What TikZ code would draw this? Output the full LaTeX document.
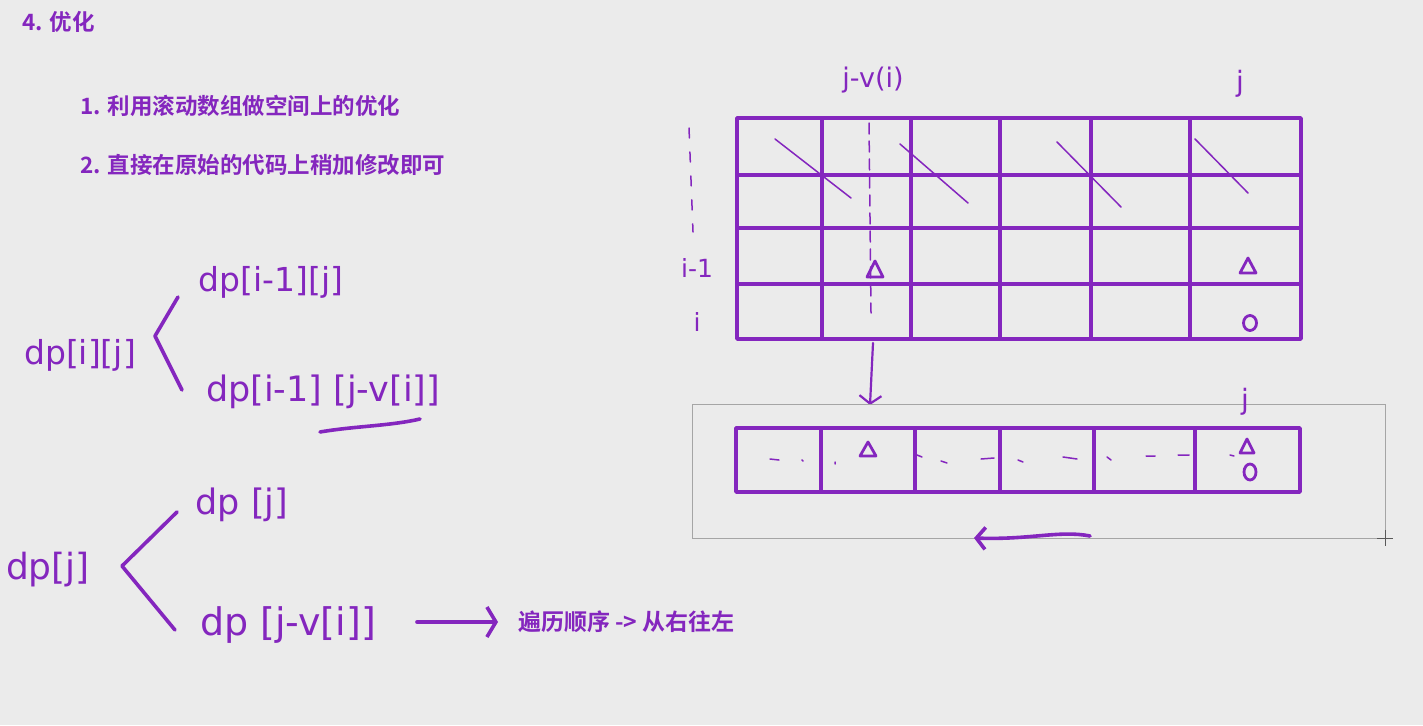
\documentclass[tikz,border=0pt]{standalone}
\usepackage{fontspec}
\setmainfont{DejaVu Sans}
\newfontfamily\cjk{Noto Sans CJK SC Bold}
\newfontfamily\hand{DejaVu Sans}
\usetikzlibrary{arrows.meta}
\definecolor{pur}{RGB}{132,38,190}
\definecolor{bgc}{RGB}{235,235,235}
\definecolor{framec}{RGB}{165,165,165}
\tikzset{
  cjktext/.style={anchor=west, inner sep=0pt, text=pur, font=\cjk\fontsize{22.5}{24}\selectfont},
  handtext/.style={inner sep=0pt, text=pur},
  gridline/.style={draw=pur, line width=3.6pt, line join=round},
  thinpen/.style={draw=pur, line width=1.5pt, line cap=round},
  pen/.style={draw=pur, line width=3.6pt, line cap=round, line join=round},
  penmark/.style={draw=pur, line width=2.8pt, line join=round},
  harrow/.style={pen, -{Straight Barb[length=9pt,width=30pt,line width=3.6pt]}}
}
\begin{document}
\begin{tikzpicture}[x=1pt,y=-1pt]
\fill[bgc] (0,0) rectangle (1423,725);
\useasboundingbox (0,0) rectangle (1423,725);

% headings
\node[cjktext] (title) at (22,22) {4. 优化};
\node[cjktext] (l1) at (80,106) {1. 利用滚动数组做空间上的优化};
\node[cjktext] (l2) at (80,165) {2. 直接在原始的代码上稍加修改即可};

% first recurrence
\node[handtext, font=\hand\fontsize{33}{34}\selectfont] (f1) at (80,355) {dp[i][j]};
\node[handtext, font=\hand\fontsize{33}{34}\selectfont] (f1a) at (271,282) {dp[i-1][j]};
\node[handtext, font=\hand\fontsize{35}{36}\selectfont] (f1b) at (323,392) {dp[i-1] [j-v[i]]};
\draw[pen] (178,297) -- (155,336) -- (182,390);
\draw[pen] (320,432) .. controls (355,426) and (390,426) .. (420,419);

% second recurrence
\node[handtext, font=\hand\fontsize{36}{36}\selectfont] (f2) at (48,570) {dp[j]};
\node[handtext, font=\hand\fontsize{35}{36}\selectfont] (f2a) at (242,505) {dp [j]};
\node[handtext, font=\hand\fontsize{38}{38}\selectfont] (f2b) at (288,625) {dp [j-v[i]]};
\draw[pen] (177,512) -- (122,566) -- (175,630);
\coordinate (a1s) at (417,622);
\node[cjktext, font=\cjk\fontsize{23}{24}\selectfont] (order) at (518,622) {遍历顺序 -> 从右往左};
\draw[harrow] (a1s) -- ([xshift=-20pt]order.west);

% 2D grid
\draw[gridline] (737,118) rectangle (1301,339);
\foreach \y in {175,228,284} \draw[gridline] (737,\y) -- (1301,\y);
\foreach \x in {822,911,1000,1091,1190} \draw[gridline] (\x,118) -- (\x,339);
% crossing strokes
\draw[thinpen] (775,139) -- (851,198);
\draw[thinpen] (900,144) -- (968,203);
\draw[thinpen] (1057,142) -- (1121,207);
\draw[thinpen] (1195,139) -- (1248,193);
% dashed guides
\draw[thinpen, dash pattern=on 11pt off 7pt] (869,123) -- (871,313);
\draw[thinpen, dash pattern=on 10pt off 14pt] (689,128) -- (693,232);
% labels
\node[handtext, font=\hand\fontsize{27}{28}\selectfont] (jv) at (873,80) {j-v(i)};
\node[handtext, font=\hand\fontsize{28}{28}\selectfont] (jt) at (1240,84) {j};
\node[handtext, font=\hand\fontsize{25}{26}\selectfont] (im1) at (697,268) {i-1};
\node[handtext, font=\hand\fontsize{25}{26}\selectfont] (ii) at (697,322) {i};
% marks
\draw[penmark] (867,277) -- (875,261) -- (883,277) -- cycle;
\draw[penmark] (1240,273) -- (1248,258) -- (1256,273) -- cycle;
\draw[penmark] (1250,323) ellipse [x radius=6.5pt, y radius=7.5pt];

% down arrow to 1D row
\coordinate (ds) at (873,343);
\coordinate (de) at (870,405);
\draw[pen, line width=2.2pt, -{Straight Barb[length=8pt,width=22pt,line width=2.2pt]}] (ds) -- (de);

% frame
\draw[framec, line width=1pt] (692,404) rectangle (1385,538);
\draw[gray!70!black, line width=0.8pt] (1377,538) -- (1393,538) (1385,530) -- (1385,546);

% 1D row
\draw[gridline] (736,428) rectangle (1300,492);
\foreach \x in {821,915,1000,1094,1195} \draw[gridline] (\x,428) -- (\x,492);
\node[handtext, font=\hand\fontsize{28}{28}\selectfont] (jb) at (1245,402) {j};
\draw[penmark] (860,456) -- (868,442) -- (876,456) -- cycle;
\draw[penmark] (1240,453) -- (1247,439) -- (1254,453) -- cycle;
\draw[penmark] (1250,472) ellipse [x radius=6pt, y radius=8pt];
% scribbled dashes
\draw[thinpen] (770,459) -- (779,460) (802,460) -- (803,461) (835,462) -- (835,464)
  (917,455) -- (922,457) (941,461) -- (947,463) (981,459) -- (994,458)
  (1018,460) -- (1023,462) (1063,457) -- (1077,459)
  (1107,457) -- (1111,460) (1146,456) -- (1155,456) (1178,455) -- (1189,455)
  (1230,455) -- (1234,456);

% left arrow
\coordinate (ls) at (1090,536);
\coordinate (le) at (974,538);
\draw[pen, -{Straight Barb[length=9pt,width=22pt,line width=3.6pt]}] (ls) .. controls (1060,530) and (1030,540) .. (le);
\end{tikzpicture}
\end{document}
